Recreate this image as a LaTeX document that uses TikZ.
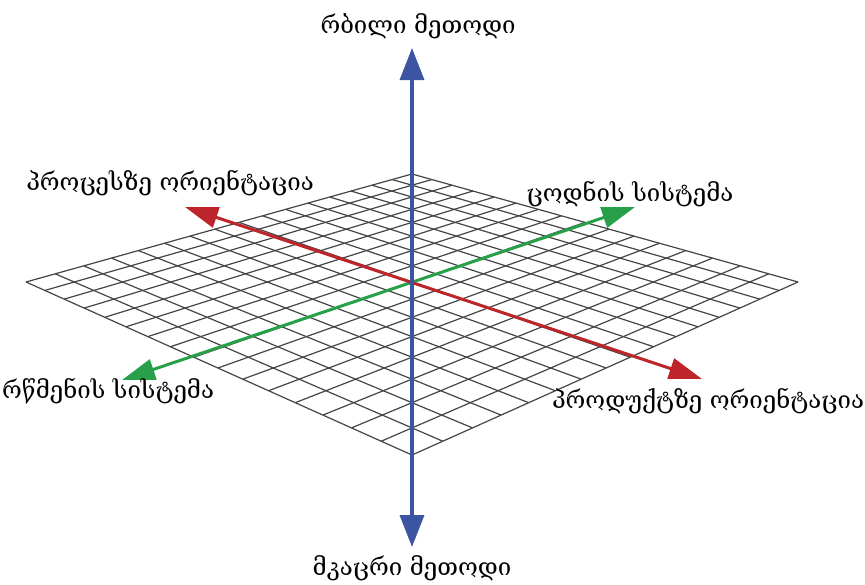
\documentclass[tikz,border=0pt]{standalone}
\usepackage{fontspec}
\setmainfont{DejaVu Serif}
\usetikzlibrary{arrows.meta, positioning}
\definecolor{softblue}{HTML}{3B55A3}
\definecolor{procred}{HTML}{BE252B}
\definecolor{knowgreen}{HTML}{27A049}
\definecolor{gridink}{HTML}{454545}

\begin{document}
\begin{tikzpicture}[
    x=1pt, y=-1pt,
    every node/.style={font=\fontsize{24}{28}\selectfont, inner sep=0pt},
    gridline/.style={draw=gridink, line width=1.2pt},
    axis/.style={line width=3.6pt},
    vaxis/.style={axis, draw=softblue, {Triangle[length=32pt, width=24pt]}-{Triangle[length=32pt, width=24pt]}},
    daxis/.style={axis, line width=3pt, {Triangle[length=33pt, width=21pt]}-{Triangle[length=33pt, width=21pt]}},
    declare function={
      px(\s,\t)=412+386*(\s+\t)/(2+0.2313*(\t-\s));
      py(\s,\t)=-293+1150/(2+0.2313*(\t-\s));
    }
  ]
    \useasboundingbox (0,0) rectangle (865,584);

    % perspective grid, 16 x 16 cells
    \foreach \i in {0,...,16} {
      \pgfmathsetmacro\u{-1+\i/8}
      \draw[gridline] ({px(\u,-1)},{py(\u,-1)}) -- ({px(\u,1)},{py(\u,1)});
      \draw[gridline] ({px(-1,\u)},{py(-1,\u)}) -- ({px(1,\u)},{py(1,\u)});
    }

    \coordinate (o) at (412,282);
    \coordinate (soft) at (412,48);
    \coordinate (hard) at (412,547);
    \coordinate (process) at (185,207);
    \coordinate (product) at (702,379);
    \coordinate (knowledge) at (635,207);
    \coordinate (belief) at (122,380);

    \draw[daxis, draw=knowgreen, color=knowgreen] (belief) -- (knowledge);
    \draw[daxis, draw=procred, color=procred] (process) -- (product);
    \draw[vaxis, color=softblue] (soft) -- (hard);

    \node[above=9pt of soft, xshift=6pt] (softlbl) {რბილი მეთოდი};
    \node[below=8pt of hard] (hardlbl) {მკაცრი მეთოდი};
    \node at (170,183) (processlbl) {პროცესზე ორიენტაცია};
    \node at (630,194) (knowlbl) {ცოდნის სისტემა};
    \node at (108,391) (belieflbl) {რწმენის სისტემა};
    \node at (708,401) (productlbl) {პროდუქტზე ორიენტაცია};
  \end{tikzpicture}
\end{document}
